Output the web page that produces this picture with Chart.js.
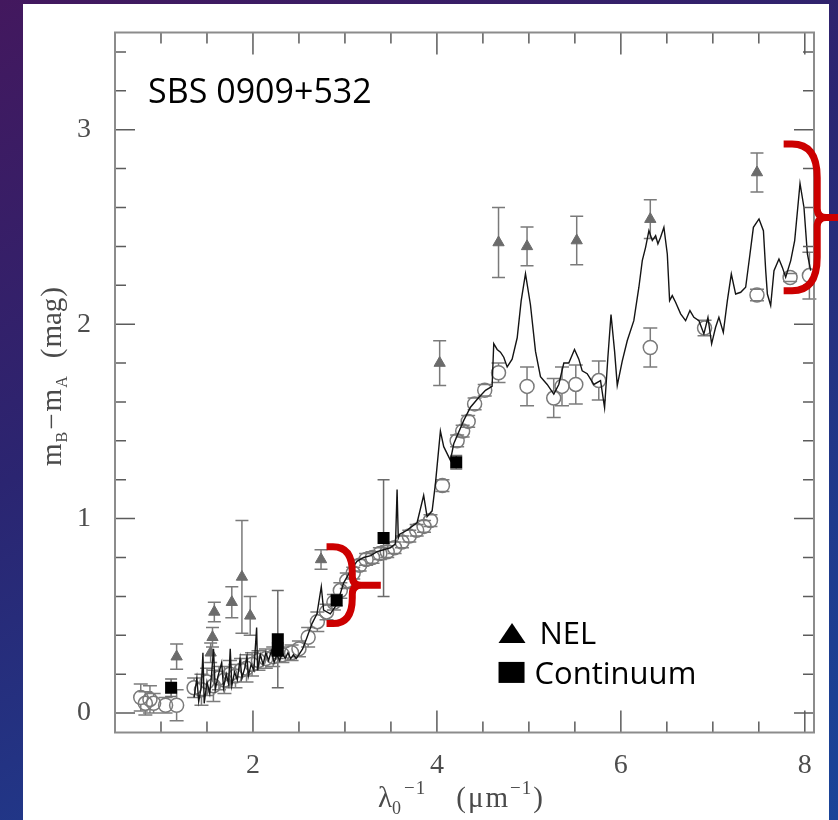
<!DOCTYPE html>
<html>
<head>
<meta charset="utf-8">
<title>SBS 0909+532</title>
<script src="https://cdn.jsdelivr.net/npm/chart.js@4.4.1/dist/chart.umd.min.js"></script>
<style>
  html, body { margin: 0; padding: 0; }
  body {
    width: 838px; height: 820px; overflow: hidden;
    background: linear-gradient(155deg, #43185e 0%, #2b2571 40%, #1f3a8c 75%, #1a4498 100%);
  }
  #sedChart { position: absolute; left: 0; top: 0; }
</style>
</head>
<body>
<canvas id="sedChart" width="838" height="820"></canvas>
<script>
// model extinction curve, [1/lambda, mB - mA]
var specLine = [
  [1.36,0.08],[1.39,0.18],[1.41,0.06],[1.44,0.14],[1.456,0.31],[1.47,0.05],[1.50,0.16],[1.53,0.10],
  [1.55,0.20],[1.571,0.33],[1.59,0.12],[1.62,0.19],[1.66,0.26],[1.68,0.13],[1.71,0.20],[1.735,0.15],
  [1.753,0.33],[1.77,0.14],[1.80,0.21],[1.83,0.17],[1.86,0.28],[1.88,0.18],[1.91,0.23],[1.935,0.29],
  [1.95,0.19],[1.98,0.25],[2.01,0.22],[2.04,0.44],[2.05,0.22],[2.08,0.30],[2.11,0.25],[2.14,0.31],
  [2.17,0.27],[2.20,0.32],[2.23,0.26],[2.26,0.30],[2.29,0.27],[2.32,0.31],[2.35,0.28],[2.38,0.31],
  [2.41,0.28],[2.44,0.30],[2.47,0.28],[2.50,0.30],[2.54,0.33],[2.588,0.39],[2.642,0.46],[2.696,0.51],
  [2.743,0.65],[2.768,0.53],[2.841,0.51],[2.914,0.56],[2.986,0.67],[3.059,0.73],[3.13,0.78],[3.204,0.80],
  [3.28,0.81],[3.349,0.83],[3.42,0.84],[3.494,0.85],[3.55,0.87],[3.567,1.15],[3.58,0.90],[3.595,0.92],
  [3.676,0.94],[3.785,0.98],[3.856,1.12],[3.893,1.01],[3.948,1.04],[3.984,1.18],[4.038,1.45],[4.074,1.37],
  [4.147,1.30],[4.183,1.385],[4.292,1.505],[4.365,1.573],[4.45,1.62],[4.528,1.66],[4.60,1.68],[4.618,1.90],
  [4.655,1.87],[4.691,1.856],[4.727,1.83],[4.764,1.78],[4.818,1.82],[4.873,1.93],[4.916,2.12],[4.963,2.26],
  [5.017,2.10],[5.072,1.86],[5.126,1.73],[5.199,1.69],[5.271,1.64],[5.325,1.69],[5.38,1.80],[5.434,1.80],
  [5.496,1.87],[5.543,1.82],[5.58,1.76],[5.634,1.745],[5.706,1.69],[5.779,1.71],[5.823,1.57],[5.859,1.83],
  [5.893,2.05],[5.932,1.86],[5.961,1.685],[6.015,1.81],[6.07,1.916],[6.141,2.018],[6.196,2.19],[6.233,2.327],
  [6.269,2.395],[6.305,2.481],[6.342,2.43],[6.378,2.455],[6.403,2.413],[6.432,2.447],[6.468,2.498],[6.505,2.361],
  [6.53,2.121],[6.559,2.147],[6.595,2.113],[6.65,2.053],[6.704,2.018],[6.751,2.07],[6.794,2.035],[6.849,2.018],
  [6.903,1.95],[6.947,2.035],[6.987,1.899],[7.03,1.984],[7.066,2.035],[7.114,1.958],[7.158,2.121],[7.201,2.258],
  [7.248,2.155],[7.303,2.164],[7.357,2.19],[7.404,2.361],[7.441,2.498],[7.502,2.541],[7.55,2.481],[7.575,2.275],
  [7.593,2.155],[7.629,2.096],[7.665,2.275],[7.719,2.335],[7.756,2.292],[7.792,2.241],[7.847,2.327],[7.89,2.43],
  [7.948,2.724],[7.991,2.60],[8.028,2.361],[8.064,2.275]
];

// photometric colour differences (open circles)
var circX = [0.78,0.83,0.88,0.92,1.05,1.17,1.36,1.44,1.50,1.57,1.63,1.69,1.75,1.81,1.87,1.93,1.99,
  2.06,2.14,2.22,2.32,2.42,2.50,2.60,2.70,2.80,2.88,2.95,3.02,3.09,3.16,3.23,3.30,3.38,3.46,3.54,3.62,
  3.70,3.78,3.86,3.93,4.06,4.22,4.28,4.34,4.41,4.52,4.67,4.98,5.27,5.36,5.51,5.76,6.32,6.91,7.48,7.84,8.05];
var circY = [0.08,0.05,0.07,0.05,0.04,0.04,0.13,0.12,0.16,0.14,0.18,0.17,0.20,0.19,0.22,0.23,0.25,
  0.27,0.28,0.29,0.30,0.31,0.33,0.39,0.47,0.52,0.57,0.63,0.68,0.72,0.76,0.79,0.80,0.82,0.83,0.85,0.88,
  0.91,0.94,0.96,0.99,1.17,1.40,1.45,1.50,1.59,1.66,1.75,1.68,1.62,1.68,1.69,1.71,1.88,1.98,2.15,2.24,2.25];
var circErr = [0.07,0.06,0.07,0.05,0.04,0.08,0.05,0.08,0.07,0.08,0.06,0.07,0.07,0.06,0.06,0.07,0.06,
  0.05,0.05,0.05,0.04,0.04,0.04,0.05,0.05,0.04,0.04,0.04,0.04,0.03,0.03,0.03,0.03,0.03,0.03,0.03,0.03,
  0.03,0.03,0.03,0.03,0.03,0.03,0.03,0.03,0.03,0.03,0.05,0.10,0.10,0.10,0.10,0.10,0.10,0.04,0.03,0.02,0.12];

// narrow emission lines (triangles)
var nelX = [1.17,1.54,1.56,1.58,1.77,1.88,1.97,2.74,4.03,4.67,4.98,5.52,6.32,7.48];
var nelY = [0.29,0.31,0.39,0.52,0.57,0.70,0.50,0.79,1.80,2.42,2.40,2.43,2.54,2.78];
var nelErr = [0.065,0.05,0.05,0.05,0.08,0.29,0.10,0.05,0.115,0.18,0.10,0.125,0.10,0.10];

// continuum (squares)
var contX = [1.11,2.27,2.27,2.91,3.42,4.21];
var contY = [0.13,0.38,0.32,0.58,0.90,1.29];
var contErr = [0.045,0.25,0.04,0.03,0.30,0.035];

var xTickLabels = [2, 4, 6, 8];
var yTickLabels = [0, 1, 2, 3];

// red braces: arm ends at x, from top to bottom, spine and tip positions
var braces = [
  { x: 2.80, top: 0.855, bottom: 0.46, spine: 3.08, tip: 3.39 },
  { x: 7.77, top: 2.926, bottom: 2.172, spine: 8.135, tip: 8.37 }
];

function toPoints(xs, ys) {
  return xs.map(function(x, i) { return { x: x, y: ys[i] }; });
}

var panelPlugin = {
  id: 'panel',
  beforeDraw: function(chart) {
    var ctx = chart.ctx;
    ctx.save();
    ctx.fillStyle = '#ffffff';
    ctx.fillRect(23, 4, 806, 816);
    ctx.restore();
  }
};

var errorBarPlugin = {
  id: 'errorBars',
  beforeDatasetsDraw: function(chart) {
    var ctx = chart.ctx, xs = chart.scales.x, ys = chart.scales.y;
    chart.data.datasets.forEach(function(ds) {
      if (!ds.errors) return;
      ctx.save();
      ctx.strokeStyle = ds.errColor;
      ctx.lineWidth = 1.5;
      ctx.beginPath();
      ds.data.forEach(function(p, j) {
        var e = ds.errors[j];
        var cx = xs.getPixelForValue(p.x);
        var cy = ys.getPixelForValue(p.y);
        var top = ys.getPixelForValue(p.y + e);
        var bot = ys.getPixelForValue(p.y - e);
        var gap = ds.errGap || 0, cap = ds.capHalf;
        if (cy - gap > top) { ctx.moveTo(cx, top); ctx.lineTo(cx, cy - gap); }
        if (cy + gap < bot) { ctx.moveTo(cx, cy + gap); ctx.lineTo(cx, bot); }
        ctx.moveTo(cx - cap, top); ctx.lineTo(cx + cap, top);
        ctx.moveTo(cx - cap, bot); ctx.lineTo(cx + cap, bot);
      });
      ctx.stroke();
      ctx.restore();
    });
  }
};

// box frame with inward ticks on all four sides
var framePlugin = {
  id: 'frame',
  afterDatasetsDraw: function(chart) {
    var a = chart.chartArea, ctx = chart.ctx, xs = chart.scales.x, ys = chart.scales.y;
    ctx.save();
    ctx.strokeStyle = '#5c5c5c';
    ctx.lineWidth = 1.5;
    ctx.beginPath();
    var v, p, len;
    for (v = 1; v <= 8; v += 0.5) {
      len = (v % 2 === 0) ? 22 : 11;
      p = xs.getPixelForValue(v);
      ctx.moveTo(p, a.bottom); ctx.lineTo(p, a.bottom - len);
      ctx.moveTo(p, a.top); ctx.lineTo(p, a.top + len);
    }
    for (var k = 0; k <= 17; k++) {
      len = (k % 5 === 0) ? 20 : 11;
      p = ys.getPixelForValue(k * 0.2);
      ctx.moveTo(a.left, p); ctx.lineTo(a.left + len, p);
      ctx.moveTo(a.right, p); ctx.lineTo(a.right - len, p);
    }
    ctx.stroke();
    ctx.strokeStyle = '#8c8c8c';
    ctx.lineWidth = 2;
    ctx.strokeRect(a.left, a.top, a.right - a.left, a.bottom - a.top);
    ctx.restore();
  }
};

// draws a run of text pieces; sub/superscripts use a smaller size and shifted baseline
function drawRich(ctx, pieces, x, y) {
  var cur = x;
  pieces.forEach(function(pc) {
    ctx.font = pc.size + 'px "Liberation Serif", serif';
    cur += pc.gap || 0;
    ctx.fillText(pc.t, cur, y + (pc.dy || 0));
    cur += ctx.measureText(pc.t).width;
  });
  return cur - x;
}
function richWidth(ctx, pieces) {
  ctx.save();
  ctx.globalAlpha = 0;
  var w = drawRich(ctx, pieces, -1000, -1000);
  ctx.restore();
  return w;
}

var xTitle = [
  { t: '\u03bb', size: 29 },
  { t: '0', size: 18, dy: 7 },
  { t: '\u2212', size: 19, dy: -13, gap: 3 },
  { t: '1', size: 19, dy: -13, gap: 1 },
  { t: '(', size: 29, gap: 31 },
  { t: '\u03bc', size: 29, gap: 2 },
  { t: 'm', size: 29, gap: 2 },
  { t: '\u2212', size: 19, dy: -13, gap: 2 },
  { t: '1', size: 19, dy: -13, gap: 1 },
  { t: ')', size: 29, gap: 2 }
];
var yTitle = [
  { t: 'm', size: 29 },
  { t: 'B', size: 16, dy: 6, gap: 1 },
  { t: '\u2212', size: 29, gap: 2 },
  { t: 'm', size: 29, gap: 2 },
  { t: 'A', size: 16, dy: 6, gap: 1 },
  { t: '(', size: 29, gap: 18 },
  { t: 'mag', size: 29, gap: 1 },
  { t: ')', size: 29, gap: 1 }
];

var labelPlugin = {
  id: 'labels',
  afterDraw: function(chart) {
    var ctx = chart.ctx, a = chart.chartArea, xs = chart.scales.x, ys = chart.scales.y;
    ctx.save();
    ctx.fillStyle = '#4a4a4a';
    ctx.textBaseline = 'alphabetic';
    ctx.textAlign = 'left';
    var w = richWidth(ctx, xTitle);
    drawRich(ctx, xTitle, (a.left + a.right) / 2 - 4 - w / 2, 807);
    ctx.save();
    ctx.translate(61, (a.top + a.bottom) / 2 - 6);
    ctx.rotate(-Math.PI / 2);
    w = richWidth(ctx, yTitle);
    drawRich(ctx, yTitle, -w / 2, 0);
    ctx.restore();

    ctx.fillStyle = '#000000';
    ctx.font = '34px "Open Sans", sans-serif';
    ctx.fillText('SBS 0909+532', xs.getPixelForValue(0.86), ys.getPixelForValue(3.14));

    // legend: triangle and square keys
    var kx = xs.getPixelForValue(4.67), ky1 = ys.getPixelForValue(0.36), ky2 = ys.getPixelForValue(0.155);
    ctx.beginPath();
    ctx.moveTo(kx, ky1);
    ctx.lineTo(kx + 13.5, ky1 - 20);
    ctx.lineTo(kx + 27, ky1);
    ctx.closePath();
    ctx.fill();
    ctx.fillRect(kx, ky2 - 21, 26, 21);
    ctx.font = '31px "Open Sans", sans-serif';
    ctx.fillText('NEL', kx + 41, ky1 + 1);
    ctx.fillText('Continuum', kx + 36, ky2 + 1);
    ctx.restore();
  }
};

function drawBrace(ctx, x0, yTop, yBot, xs, xt) {
  var ym = (yTop + yBot) / 2;
  var r = Math.min(xs - x0, (yBot - yTop) / 3);
  var r2 = 9;
  ctx.beginPath();
  ctx.moveTo(x0, yTop);
  ctx.lineTo(x0 + (xs - x0) * 0.25, yTop);
  ctx.quadraticCurveTo(xs, yTop, xs, yTop + r);
  ctx.lineTo(xs, ym - r2);
  ctx.quadraticCurveTo(xs, ym, xs + r2, ym);
  ctx.lineTo(xt, ym);
  ctx.moveTo(xs + r2, ym);
  ctx.quadraticCurveTo(xs, ym, xs, ym + r2);
  ctx.lineTo(xs, yBot - r);
  ctx.quadraticCurveTo(xs, yBot, x0 + (xs - x0) * 0.25, yBot);
  ctx.lineTo(x0, yBot);
  ctx.stroke();
}

var bracePlugin = {
  id: 'braces',
  afterDraw: function(chart) {
    var ctx = chart.ctx, xs = chart.scales.x, ys = chart.scales.y;
    ctx.save();
    ctx.strokeStyle = '#cc0000';
    ctx.lineWidth = 7;
    ctx.lineJoin = 'round';
    braces.forEach(function(b) {
      drawBrace(ctx, xs.getPixelForValue(b.x), ys.getPixelForValue(b.top), ys.getPixelForValue(b.bottom),
        xs.getPixelForValue(b.spine), xs.getPixelForValue(b.tip));
    });
    ctx.restore();
  }
};

Chart.defaults.font.family = '"Liberation Serif", serif';

var sedChart = new Chart(document.getElementById('sedChart'), {
  type: 'scatter',
  data: {
    datasets: [{
      label: 'Continuum',
      data: toPoints(contX, contY),
      errors: contErr, errColor: '#6a6a6a', capHalf: 6, errGap: 0,
      pointStyle: 'rect', pointRadius: 8.5,
      backgroundColor: '#000000', borderColor: '#000000', borderWidth: 0,
      order: 0
    }, {
      label: 'Model',
      data: specLine.map(function(p) { return { x: p[0], y: p[1] }; }),
      showLine: true, pointRadius: 0,
      borderColor: '#141414', borderWidth: 1.4,
      order: 1
    }, {
      label: 'NEL',
      data: toPoints(nelX, nelY),
      errors: nelErr, errColor: '#7a7a7a', capHalf: 6.5, errGap: 0,
      pointStyle: 'triangle', pointRadius: 6.5,
      backgroundColor: '#6b6b6b', borderColor: '#6b6b6b', borderWidth: 1,
      order: 2
    }, {
      label: 'Colour',
      data: toPoints(circX, circY),
      errors: circErr, errColor: '#7c7c7c', capHalf: 7, errGap: 7,
      pointStyle: 'circle', pointRadius: 7,
      backgroundColor: 'rgba(255,255,255,0)', borderColor: '#7a7a7a', borderWidth: 1.5,
      order: 3
    }]
  },
  options: {
    responsive: false,
    devicePixelRatio: 1,
    animation: false,
    layout: { padding: { left: 23, top: 32.5, right: 24, bottom: 0 } },
    plugins: {
      legend: { display: false },
      tooltip: { enabled: false }
    },
    scales: {
      x: {
        type: 'linear', min: 0.5, max: 8.1,
        grid: { display: false, drawTicks: false },
        border: { display: false },
        afterBuildTicks: function(s) { s.ticks = xTickLabels.map(function(v) { return { value: v }; }); },
        afterFit: function(s) { s.height = 87.5; s.paddingLeft = 0; s.paddingRight = 0; },
        ticks: { font: { size: 28 }, color: '#4d4d4d', padding: 16, maxRotation: 0, autoSkip: false }
      },
      y: {
        type: 'linear', min: -0.1, max: 3.5,
        grid: { display: false, drawTicks: false },
        border: { display: false },
        afterBuildTicks: function(s) { s.ticks = yTickLabels.map(function(v) { return { value: v }; }); },
        afterFit: function(s) { s.width = 92; s.paddingTop = 0; s.paddingBottom = 0; },
        ticks: { font: { size: 28 }, color: '#4d4d4d', padding: 24, autoSkip: false }
      }
    }
  },
  plugins: [panelPlugin, errorBarPlugin, framePlugin, labelPlugin, bracePlugin]
});
</script>
</body>
</html>
